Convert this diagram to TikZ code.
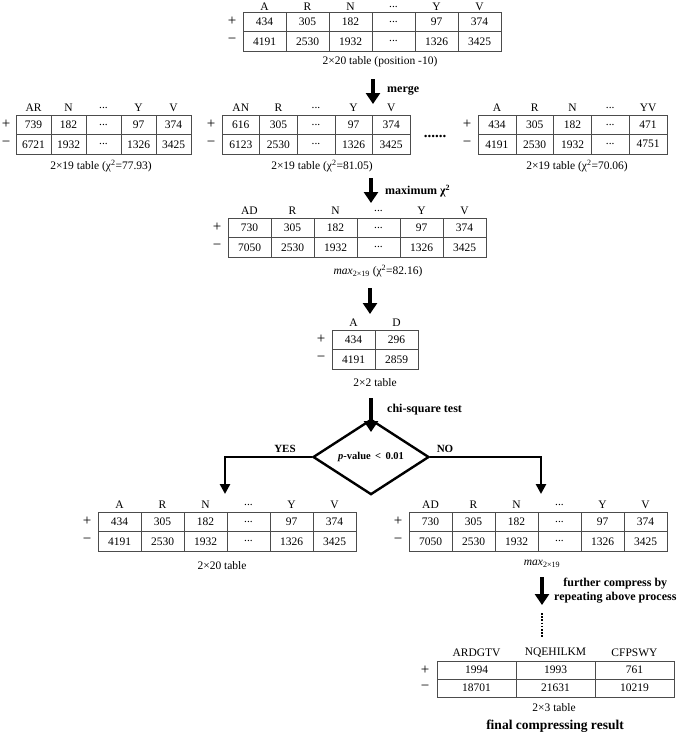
\documentclass[tikz,border=0pt]{standalone}
\usepackage{fontspec}
\setmainfont{Liberation Serif}
\usetikzlibrary{calc,positioning,arrows.meta,shapes.geometric}
\newcommand{\skipcol}{...}

\tikzset{
  cell/.style={draw=black!70, line width=0.6pt, minimum width=43pt, minimum height=19.5pt, inner sep=0pt, font=\fontsize{11.5}{13}\selectfont},
  hd/.style={inner sep=0pt, font=\fontsize{11.5}{13}\selectfont},
  sgn/.style={inner sep=0pt, font=\fontsize{15}{17}\selectfont},
  captxt/.style={inner sep=0pt, font=\fontsize{11.5}{13}\selectfont},
  lbl/.style={inner sep=0pt, anchor=west, font=\fontsize{12}{14.5}\selectfont\bfseries},
  bigarrow/.style={line width=4.5pt, -{Triangle[length=11pt,width=14pt]}},
  brancharrow/.style={line width=2.6pt, -{Triangle[length=10pt,width=10pt]}},
}

\begin{document}
\begin{tikzpicture}[x=1pt,y=-1pt]
\useasboundingbox (0,0) rectangle (685,737);
% 2x20 table on top
\begin{scope}[shift={(243,12)}]
  \foreach \hd/\p/\m [count=\i] in {A/434/4191,R/305/2530,N/182/1932,\skipcol/\skipcol/\skipcol,Y/97/1326,V/374/3425}{
    \node[hd] (t0-h\i) at ({(\i-0.5)*43},-5) {\hd};
    \node[cell] (t0-p\i) at ({(\i-0.5)*43},9.75) {\p};
    \node[cell] (t0-m\i) at ({(\i-0.5)*43},29.25) {\m};
  }
  \node[sgn] (t0-plus) at (-11,9.75) {+};
  \node[sgn] (t0-minus) at (-11,29.25) {−};
  \node[captxt] (t0-cap) at (137,50) {2×20 table (position -10)};
\end{scope}
\coordinate (a1s) at (373,79);
\coordinate (a1e) at (373,104);
\draw[bigarrow] (a1s) -- (a1e);
\node[lbl] (l-merge) at (387,91) {merge};
% the merged 2x19 tables
\begin{scope}[shift={(16,115)}]
  \foreach \hd/\p/\m [count=\i] in {AR/739/6721,N/182/1932,\skipcol/\skipcol/\skipcol,Y/97/1326,V/374/3425}{
    \node[hd] (t1-h\i) at ({(\i-0.5)*35},-7) {\hd};
    \node[cell,minimum width=35pt] (t1-p\i) at ({(\i-0.5)*35},9.75) {\p};
    \node[cell,minimum width=35pt] (t1-m\i) at ({(\i-0.5)*35},29.25) {\m};
  }
  \node[sgn] (t1-plus) at (-10,9.75) {+};
  \node[sgn] (t1-minus) at (-10,29.25) {−};
  \node[captxt] (t1-cap) at (85,51) {2×19 table (χ\textsuperscript{2}=77.93)};
\end{scope}
\begin{scope}[shift={(222,115)}]
  \foreach \hd/\p/\m [count=\i] in {AN/616/6123,R/305/2530,\skipcol/\skipcol/\skipcol,Y/97/1326,V/374/3425}{
    \node[hd] (t2-h\i) at ({(\i-0.5)*37.6},-7) {\hd};
    \node[cell,minimum width=37.6pt] (t2-p\i) at ({(\i-0.5)*37.6},9.75) {\p};
    \node[cell,minimum width=37.6pt] (t2-m\i) at ({(\i-0.5)*37.6},29.25) {\m};
  }
  \node[sgn] (t2-plus) at (-11,9.75) {+};
  \node[sgn] (t2-minus) at (-11,29.25) {−};
  \node[captxt] (t2-cap) at (100,51) {2×19 table (χ\textsuperscript{2}=81.05)};
  \node[font=\fontsize{15}{15}\selectfont\bfseries] (t2-dots) at (213,21) {......};
\end{scope}
\begin{scope}[shift={(478,115)}]
  \foreach \hd/\p/\m [count=\i] in {A/434/4191,R/305/2530,N/182/1932,\skipcol/\skipcol/\skipcol,YV/471/4751}{
    \node[hd] (t3-h\i) at ({(\i-0.5)*37.8},-7) {\hd};
    \node[cell,minimum width=37.8pt] (t3-p\i) at ({(\i-0.5)*37.8},9.75) {\p};
    \node[cell,minimum width=37.8pt] (t3-m\i) at ({(\i-0.5)*37.8},29.25) {\m};
  }
  \node[sgn] (t3-plus) at (-11,9.75) {+};
  \node[sgn] (t3-minus) at (-11,29.25) {−};
  \node[captxt] (t3-cap) at (99,51) {2×19 table (χ\textsuperscript{2}=70.06)};
\end{scope}
\coordinate (a2s) at (371,178);
\coordinate (a2e) at (371,203);
\draw[bigarrow] (a2s) -- (a2e);
\node[lbl] (l-max) at (385,191) {maximum χ\textsuperscript{2}};
% table with the maximum chi-square
\begin{scope}[shift={(228,218)}]
  \foreach \hd/\p/\m [count=\i] in {AD/730/7050,R/305/2530,N/182/1932,\skipcol/\skipcol/\skipcol,Y/97/1326,V/374/3425}{
    \node[hd] (t4-h\i) at ({(\i-0.5)*43},-7) {\hd};
    \node[cell] (t4-p\i) at ({(\i-0.5)*43},9.75) {\p};
    \node[cell] (t4-m\i) at ({(\i-0.5)*43},29.25) {\m};
  }
  \node[sgn] (t4-plus) at (-11,9.75) {+};
  \node[sgn] (t4-minus) at (-11,29.25) {−};
  \node[captxt] (t4-cap) at (150,53) {\textit{max}\textsubscript{2×19} (χ\textsuperscript{2}=82.16)};
\end{scope}
\coordinate (a3s) at (370,288);
\coordinate (a3e) at (370,314);
\draw[bigarrow] (a3s) -- (a3e);
% 2x2 table
\begin{scope}[shift={(332,330)}]
  \foreach \hd/\p/\m [count=\i] in {A/434/4191,D/296/2859}{
    \node[hd] (t5-h\i) at ({(\i-0.5)*43},-7) {\hd};
    \node[cell] (t5-p\i) at ({(\i-0.5)*43},9.75) {\p};
    \node[cell] (t5-m\i) at ({(\i-0.5)*43},29.25) {\m};
  }
  \node[sgn] (t5-plus) at (-11,9.75) {+};
  \node[sgn] (t5-minus) at (-11,29.25) {−};
  \node[captxt] (t5-cap) at (43,53) {2×2 table};
\end{scope}
\coordinate (a4s) at (371,398);
\coordinate (a4e) at (371,432);
\draw[bigarrow] (a4s) -- (a4e);
\node[lbl] (l-chi) at (387,410) {chi-square test};
\node[draw, diamond, line width=2.4pt, minimum width=116pt, minimum height=48pt, inner sep=0pt, font=\fontsize{10.5}{12}\selectfont\bfseries] (test) at (371,457) {\textit{p}-value \,<\, 0.01};
\coordinate (yes-e) at (225,494);
\coordinate (no-e) at (541,494);
\draw[brancharrow] (test.west) -| (yes-e);
\draw[brancharrow] (test.east) -| (no-e);
\node[font=\fontsize{11}{13}\selectfont\bfseries] (l-yes) at (285,449) {YES};
\node[font=\fontsize{11}{13}\selectfont\bfseries] (l-no) at (445,449) {NO};
% outcome tables
\begin{scope}[shift={(98,512)}]
  \foreach \hd/\p/\m [count=\i] in {A/434/4191,R/305/2530,N/182/1932,\skipcol/\skipcol/\skipcol,Y/97/1326,V/374/3425}{
    \node[hd] (t6-h\i) at ({(\i-0.5)*43},-7) {\hd};
    \node[cell] (t6-p\i) at ({(\i-0.5)*43},9.75) {\p};
    \node[cell] (t6-m\i) at ({(\i-0.5)*43},29.25) {\m};
  }
  \node[sgn] (t6-plus) at (-11,9.75) {+};
  \node[sgn] (t6-minus) at (-11,29.25) {−};
  \node[captxt] (t6-cap) at (124,54) {2×20 table};
\end{scope}
\begin{scope}[shift={(409,512)}]
  \foreach \hd/\p/\m [count=\i] in {AD/730/7050,R/305/2530,N/182/1932,\skipcol/\skipcol/\skipcol,Y/97/1326,V/374/3425}{
    \node[hd] (t7-h\i) at ({(\i-0.5)*43},-7) {\hd};
    \node[cell] (t7-p\i) at ({(\i-0.5)*43},9.75) {\p};
    \node[cell] (t7-m\i) at ({(\i-0.5)*43},29.25) {\m};
  }
  \node[sgn] (t7-plus) at (-11,9.75) {+};
  \node[sgn] (t7-minus) at (-11,29.25) {−};
  \node[captxt] (t7-cap) at (133,52) {\textit{max}\textsubscript{2×19}};
\end{scope}
\coordinate (a5s) at (542,577);
\coordinate (a5e) at (542,605);
\draw[bigarrow] (a5s) -- (a5e);
\node[lbl, align=center, font=\fontsize{12}{14}\selectfont\bfseries] (l-further) at (554,591) {further compress by\\repeating above process};
\coordinate (d-s) at (542,613);
\coordinate (d-e) at (542,638);
\draw[line width=1.8pt, dash pattern=on 1.6pt off 1.6pt] (d-s) -- (d-e);
% final 2x3 table
\begin{scope}[shift={(437,661)}]
  \foreach \hd/\p/\m [count=\i] in {ARDGTV/1994/18701,NQEHILKM/1993/21631,CFPSWY/761/10219}{
    \node[hd] (t8-h\i) at ({(\i-0.5)*79},-8) {\hd};
    \node[cell,minimum width=79pt,minimum height=18pt] (t8-p\i) at ({(\i-0.5)*79},9) {\p};
    \node[cell,minimum width=79pt,minimum height=18pt] (t8-m\i) at ({(\i-0.5)*79},27) {\m};
  }
  \node[sgn] (t8-plus) at (-12,9) {+};
  \node[sgn] (t8-minus) at (-12,27) {−};
  \node[captxt] (t8-cap) at (117,47) {2×3 table};
  \node[captxt, font=\fontsize{13.5}{15}\selectfont\bfseries] (t8-res) at (118,65) {final compressing result};
\end{scope}
\end{tikzpicture}
\end{document}
